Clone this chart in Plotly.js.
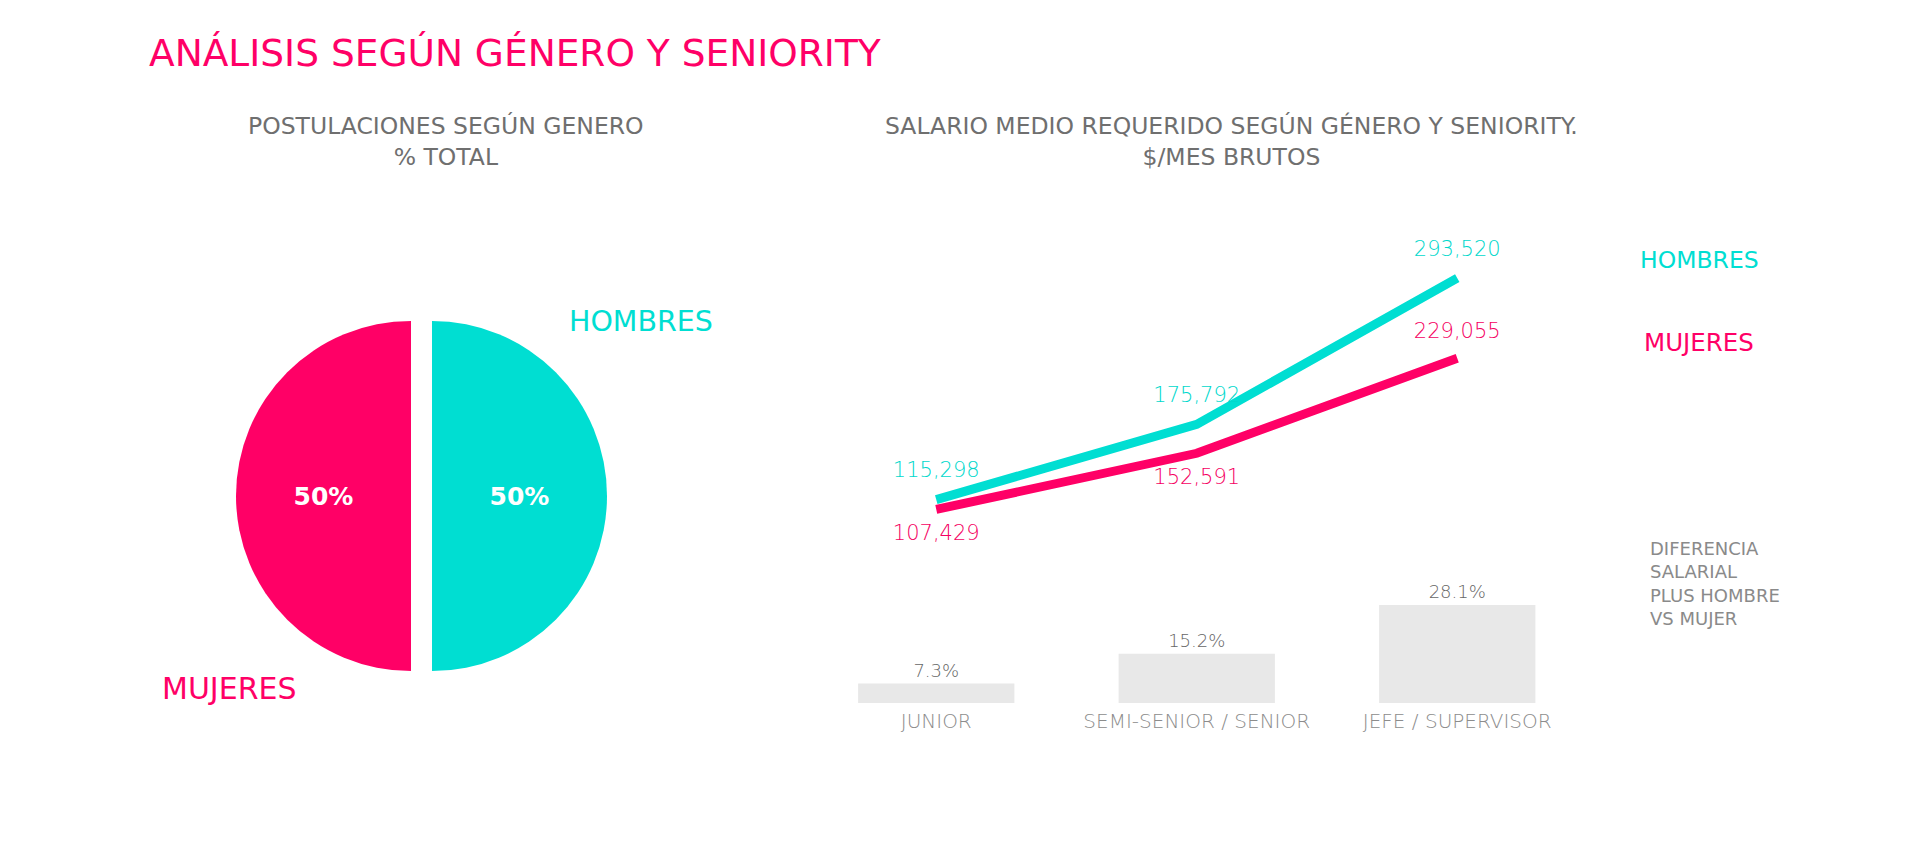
<!DOCTYPE html>
<html>
<head>
<meta charset="utf-8">
<script src="https://cdn.plot.ly/plotly-3.0.1.min.js"></script>
<style>html,body{margin:0;padding:0;background:#fff;}#chart{width:1920px;height:850px;}</style>
</head>
<body>
<div id="chart"></div>
<script>
// ---- data ----
const pieLabels = ['HOMBRES', 'MUJERES'];
const pieValues = [50, 50];
const categories = ['JUNIOR', 'SEMI-SENIOR / SENIOR', 'JEFE / SUPERVISOR'];
const hombres = [115298, 175792, 293520];
const mujeres = [107429, 152591, 229055];
const diferencia = [7.3, 15.2, 28.1];

// ---- styles ----
const PINK = '#FF0066';
const CYAN = '#00DED2';
const FONT = 'DejaVu Sans, Open Sans, sans-serif';
const W = 1920, H = 850;
const px = x => x / W;
const py = y => 1 - y / H;

const traces = [
  {
    type: 'pie', labels: pieLabels, values: pieValues, sort: false, direction: 'clockwise',
    rotation: 0, pull: [0.06, 0.06],
    marker: {colors: [CYAN, PINK], line: {width: 0}},
    textinfo: 'percent', textposition: 'inside',
    insidetextfont: {family: FONT, size: 25, color: '#ffffff', weight: 700},
    domain: {x: [px(236), px(607)], y: [py(681.5), py(310.5)]},
    showlegend: false, hoverinfo: 'label+percent'
  },
  {
    type: 'scatter', mode: 'lines+markers+text', name: 'HOMBRES',
    x: categories, y: hombres,
    line: {color: CYAN, width: 9},
    marker: {size: 26, color: 'rgba(0,0,0,0)'},
    text: hombres.map(v => v.toLocaleString('en-US')),
    textposition: 'top center',
    textfont: {family: FONT, size: 21, color: '#00D8CC', weight: 300},
    xaxis: 'x', yaxis: 'y', showlegend: false, cliponaxis: false
  },
  {
    type: 'scatter', mode: 'lines+markers+text', name: 'MUJERES',
    x: categories, y: mujeres,
    line: {color: PINK, width: 9},
    marker: {size: 22, color: 'rgba(0,0,0,0)'},
    text: mujeres.map(v => v.toLocaleString('en-US')),
    textposition: ['bottom center', 'bottom center', 'top center'],
    textfont: {family: FONT, size: 21, color: '#F50062', weight: 300},
    xaxis: 'x', yaxis: 'y', showlegend: false, cliponaxis: false
  },
  {
    type: 'bar', x: categories, y: diferencia, width: 0.6,
    marker: {color: '#E8E8E8', line: {width: 0}},
    text: diferencia.map(v => v.toFixed(1) + '%'),
    textposition: 'outside',
    textfont: {family: FONT, size: 18, color: '#666666', weight: 300},
    xaxis: 'x', yaxis: 'y2', showlegend: false, cliponaxis: false
  }
];

const lineYTop = 270, lineYBot = 643; // px for 300000 and 0
const yAt = v => lineYBot - (lineYBot - lineYTop) * v / 300000;

const layout = {
  width: W, height: H,
  margin: {l: 0, r: 0, t: 0, b: 0},
  paper_bgcolor: '#ffffff', plot_bgcolor: 'rgba(0,0,0,0)',
  font: {family: FONT},
  title: {
    text: 'ANÁLISIS SEGÚN GÉNERO Y SENIORITY',
    x: px(149), xanchor: 'left', xref: 'paper',
    y: py(53), yanchor: 'middle', yref: 'paper',
    font: {family: FONT, size: 37.5, color: PINK}
  },
  xaxis: {
    domain: [px(806), px(1587.5)], anchor: 'y2', type: 'category',
    range: [-0.5, 2.5], showgrid: false, zeroline: false, showline: false,
    ticks: '', tickfont: {family: FONT, size: 20, color: '#8c8c8c', weight: 300}, ticklabelstandoff: 4
  },
  yaxis: {
    domain: [py(yAt(50000)), py(yAt(300000))], range: [50000, 300000],
    anchor: 'x', visible: false, showgrid: false, zeroline: false
  },
  yaxis2: {
    domain: [py(703), py(703 - (30 - 2.15) * 3.78)], range: [2.15, 30],
    anchor: 'x', visible: false, showgrid: false, zeroline: false
  },
  annotations: [
    {text: 'POSTULACIONES SEGÚN GENERO<br>% TOTAL', x: px(446), y: py(142), xref: 'paper', yref: 'paper',
     xanchor: 'center', yanchor: 'middle', showarrow: false, align: 'center',
     font: {family: FONT, size: 23.5, color: '#6f6f6f'}},
    {text: 'SALARIO MEDIO REQUERIDO SEGÚN GÉNERO Y SENIORITY.<br>$/MES BRUTOS', x: px(1231), y: py(142), xref: 'paper', yref: 'paper',
     xanchor: 'center', yanchor: 'middle', showarrow: false, align: 'center',
     font: {family: FONT, size: 23.5, color: '#6f6f6f'}},
    {text: 'HOMBRES', x: px(567), y: py(321), xref: 'paper', yref: 'paper', xanchor: 'left', yanchor: 'middle',
     showarrow: false, font: {family: FONT, size: 28.5, color: CYAN}},
    {text: 'MUJERES', x: px(160), y: py(688), xref: 'paper', yref: 'paper', xanchor: 'left', yanchor: 'middle',
     showarrow: false, font: {family: FONT, size: 30, color: PINK}},
    {text: 'HOMBRES', x: px(1638), y: py(260), xref: 'paper', yref: 'paper', xanchor: 'left', yanchor: 'middle',
     showarrow: false, font: {family: FONT, size: 23.5, color: CYAN}},
    {text: 'MUJERES', x: px(1642), y: py(342), xref: 'paper', yref: 'paper', xanchor: 'left', yanchor: 'middle',
     showarrow: false, font: {family: FONT, size: 24.5, color: PINK}},
    {text: 'DIFERENCIA<br>SALARIAL<br>PLUS HOMBRE<br>VS MUJER', x: px(1648), y: py(583), xref: 'paper', yref: 'paper',
     xanchor: 'left', yanchor: 'middle', align: 'left', showarrow: false,
     font: {family: FONT, size: 18, color: '#8a8a8a'}}
  ]
};

Plotly.newPlot('chart', traces, layout, {displayModeBar: false, staticPlot: true});
</script>
</body>
</html>
